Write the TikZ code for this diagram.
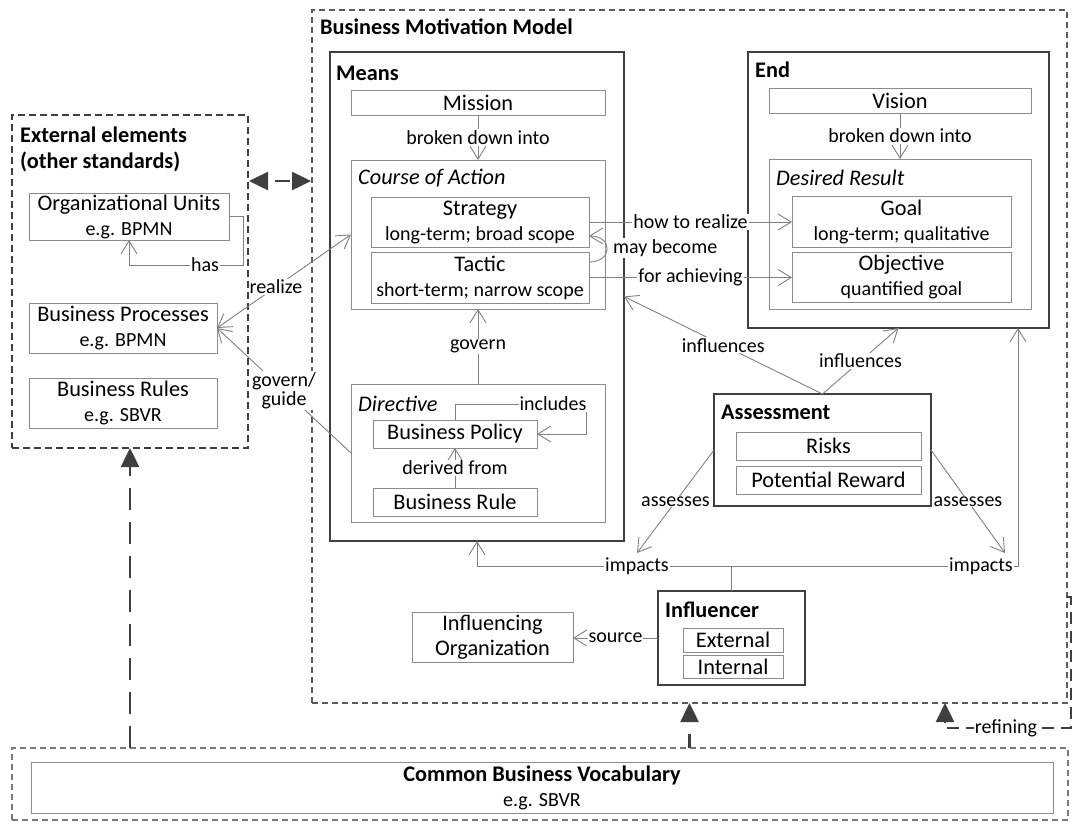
\documentclass[tikz,border=0pt]{standalone}
\usepackage{fontspec}
\setmainfont{Carlito}
\usetikzlibrary{arrows.meta,calc}
\definecolor{bx}{HTML}{8C8C8C}
\definecolor{dk}{HTML}{3F3F3F}
\definecolor{ln}{HTML}{808080}
\newcommand{\bigf}{\fontsize{22.3}{25}\selectfont}
\newcommand{\smf}{\fontsize{20}{25}\selectfont}
\newcommand{\twol}[2]{{\bigf #1}\\{\smf #2}}
\tikzset{
  box/.style={draw=bx, line width=0.9pt, inner sep=0pt, outer sep=0pt, anchor=north west, align=center, font=\bigf},
  thickbox/.style={draw=dk, line width=2.2pt, inner sep=0pt, outer sep=0pt, anchor=north west},
  dbox/.style={draw=dk, line width=1.6pt, dash pattern=on 7pt off 4pt, inner sep=0pt, outer sep=0pt, anchor=north west},
  gbox/.style={draw=dk!85, line width=1.2pt, dash pattern=on 6pt off 4pt, inner sep=0pt, outer sep=0pt, anchor=north west},
  ttl/.style={anchor=west, inner sep=0pt, font=\bfseries\bigf},
  ital/.style={anchor=west, inner sep=0pt, font=\itshape\bigf},
  lbl/.style={fill=white, inner sep=1pt, font=\smf},
  ln/.style={draw=ln, line width=0.9pt},
  conn/.style={ln, -{Straight Barb[length=13pt,width=16pt]}},
  heavy/.style={draw=dk, line width=2.5pt, dash pattern=on 22pt off 12pt, -{Triangle[length=19pt,width=18pt]}},
}
\begin{document}
\begin{tikzpicture}[x=1pt,y=-1pt]
\useasboundingbox (0,0) rectangle (1073,823);

% ---------- containers ----------
\node[dbox, minimum width=236pt, minimum height=333pt] (ext) at (12,115) {};
\node[ttl] (extt1) at (20,135) {External elements};
\node[ttl] (extt2) at (20,162) {(other standards)};
\node[box, minimum width=200pt, minimum height=47pt] (orgu) at (29,193) {\twol{Organizational Units}{e.g. BPMN}};
\node[box, minimum width=188pt, minimum height=50pt] (bproc) at (29,303) {\twol{Business Processes}{e.g. BPMN}};
\node[box, minimum width=188pt, minimum height=50pt] (brules) at (29,378) {\twol{Business Rules}{e.g. SBVR}};

\node[gbox, minimum width=755pt, minimum height=693pt] (bmm) at (312,10) {};
\node[ttl] (bmmt) at (320,27) {Business Motivation Model};

% Means
\node[thickbox, minimum width=294pt, minimum height=489pt] (means) at (330,52) {};
\node[ttl] (meanst) at (336,73) {Means};
\node[box, minimum width=254pt, minimum height=25pt] (mission) at (351,90) {Mission};
\node[box, minimum width=254pt, minimum height=149pt] (coa) at (351,160) {};
\node[ital] (coat) at (358,178) {Course of Action};
\node[box, minimum width=218pt, minimum height=50pt] (strategy) at (371,197) {\twol{Strategy}{long-term; broad scope}};
\node[box, minimum width=218pt, minimum height=51pt] (tactic) at (371,252) {\twol{Tactic}{short-term; narrow scope}};
\node[box, minimum width=254pt, minimum height=138pt] (directive) at (351,384) {};
\node[ital] (dirt) at (358,404) {Directive};
\node[box, minimum width=164pt, minimum height=28pt] (bpolicy) at (373,420) {Business Policy};
\node[box, minimum width=164pt, minimum height=28pt] (brule) at (373,488) {Business Rule};

% End
\node[thickbox, minimum width=301pt, minimum height=276pt] (end) at (748,52) {};
\node[ttl] (endt) at (755,70) {End};
\node[box, minimum width=262pt, minimum height=25pt] (vision) at (769,88) {Vision};
\node[box, minimum width=262pt, minimum height=150pt] (dr) at (769,159) {};
\node[ital] (drt) at (776,178) {Desired Result};
\node[box, minimum width=219pt, minimum height=51pt] (goal) at (792,196) {\twol{Goal}{long-term; qualitative}};
\node[box, minimum width=219pt, minimum height=50pt] (objective) at (792,252) {\twol{Objective}{quantified goal}};

% Assessment
\node[thickbox, minimum width=217pt, minimum height=112pt] (assess) at (714,394) {};
\node[ttl] (assesst) at (721,412) {Assessment};
\node[box, minimum width=185pt, minimum height=28pt] (risks) at (736,432) {Risks};
\node[box, minimum width=185pt, minimum height=28pt] (reward) at (736,466) {Potential Reward};

% Influencer
\node[thickbox, minimum width=147pt, minimum height=94pt] (influencer) at (658,591) {};
\node[ttl] (inflt) at (665,610) {Influencer};
\node[box, minimum width=100pt, minimum height=24pt] (external) at (683,628) {External};
\node[box, minimum width=100pt, minimum height=23pt] (internal) at (683,655) {Internal};
\node[box, minimum width=161pt, minimum height=50pt] (inforg) at (412,612) {Influencing\\Organization};

% Common Business Vocabulary
\node[gbox, draw=dk!70, minimum width=1056pt, minimum height=72pt] (cbv) at (12,748) {};
\node[box, minimum width=1022pt, minimum height=51pt] (cbvin) at (31,762) {{\bfseries\bigf Common Business Vocabulary}\\{\smf e.g. SBVR}};

% ---------- connectors ----------
\draw[conn] (mission) -- node[lbl]{broken down into} (coa);
\draw[conn] (vision) -- node[lbl]{broken down into} (dr);
\draw[conn] (strategy.east) -- node[lbl]{how to realize} (strategy.east -| goal.west);
\draw[conn] (tactic.east) -- node[lbl]{for achieving} (tactic.east -| objective.west);
\draw[conn] ([yshift=15.5pt]tactic.east) .. controls +(24,0) and +(24,0) .. ([yshift=-14pt]strategy.east);
\draw[conn] (directive) -- node[lbl]{govern} (coa);
\draw[conn] (brule) -- node[lbl]{derived from} (bpolicy);
\coordinate (incl) at (586,404);
\draw[conn] (bpolicy.north) |- (incl) |- (bpolicy.east);
\coordinate (hasc) at (243,265);
\draw[conn] (orgu.east) -| (hasc) -| (orgu.south);
\draw[ln, {Straight Barb[length=13pt,width=16pt]}-{Straight Barb[length=13pt,width=16pt]}] (bproc.east) -- node[lbl, pos=0.44]{realize} (coa.west);
\draw[conn] (directive.west) -- node[lbl, align=center, pos=0.5, font=\fontsize{20}{19}\selectfont]{govern/\\guide} (bproc.east);
\draw[conn] (assess.north) -- node[lbl]{influences} (means.east);
\draw[conn] (assess.north) -- node[lbl]{influences} (end.south);
\coordinate (aL) at (637,553);
\coordinate (aR) at (1005,553);
\draw[conn] (assess.west) -- node[lbl]{assesses} (aL);
\draw[conn] (assess.east) -- node[lbl]{assesses} (aR);
\coordinate (imp) at (731.5,566);
\coordinate (impR) at (1018,328);
\draw[ln] (influencer.north) -- (imp);
\draw[conn] (imp) -| (means.south);
\draw[conn] (imp) -| (impR);
\draw[conn] (influencer.west) -- node[lbl]{source} (influencer.west -| inforg.east);

% heavy dashed arrows
\coordinate (dL) at (249,181);
\coordinate (dR) at (311,181);
\draw[draw=dk, line width=2.5pt, {Triangle[length=19pt,width=18pt]}-{Triangle[length=19pt,width=18pt]}, dash pattern=on 15pt off 8pt, dash phase=15pt] (dL) -- (dR);
\draw[heavy] (ext.south |- cbv.north) -- (ext.south);
\draw[heavy, dash pattern=on 14pt off 12pt] (bmm.south |- cbv.north) -- (bmm.south);
\coordinate (r1) at (1071,597);
\coordinate (r2) at (1071,728);
\coordinate (r3) at (945,728);
\draw[heavy, dash pattern=on 12pt off 7pt] (bmm.east |- r1) -- (r1) -- (r2) -- (r3) -- (r3 |- bmm.south);

% labels drawn on top
\node[lbl, anchor=west] (maybec) at (612,248) {may become};
\node[lbl] (inclt) at (553,404) {includes};
\node[lbl] (hast) at (205,265) {has};
\node[lbl] (impt1) at (637,566) {impacts};
\node[lbl] (impt2) at (981,566) {impacts};
\node[lbl] (refl) at (1006,728) {refining};
\end{tikzpicture}
\end{document}
